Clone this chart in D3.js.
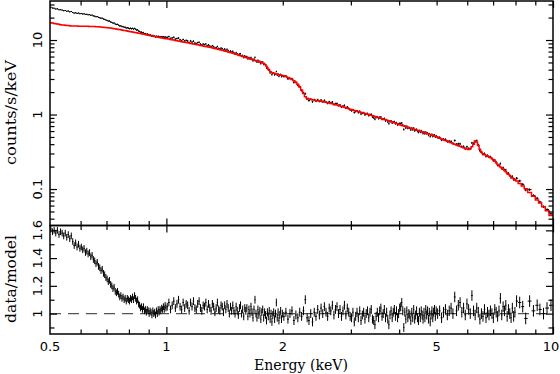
<!DOCTYPE html>
<html lang="en">
<head>
<meta charset="UTF-8">
<title>Spectrum with data/model ratio</title>
<script src="https://cdn.jsdelivr.net/npm/d3@7"></script>
<style>
  body { margin: 0; background: #fff; }
  svg { display: block; }
  .title { font-family: "DejaVu Serif", serif; font-size: 14px; fill: #000; }
  .num { font-family: "DejaVu Sans", sans-serif; font-size: 13px; fill: #000; }
</style>
</head>
<body>
<svg id="chart" width="560" height="374"></svg>
<script>
// bin centres in keV
const energy = [
  0.5025,0.5075,0.5125,0.5175,0.5225,0.5275,0.5325,0.5375,0.5425,0.5475,
  0.5525,0.5575,0.5625,0.5675,0.5725,0.5775,0.5825,0.5875,0.5925,0.5975,
  0.6025,0.6075,0.6125,0.6175,0.6225,0.6275,0.6325,0.6375,0.6425,0.6475,
  0.6525,0.6575,0.6625,0.6675,0.6725,0.6775,0.6825,0.6875,0.6925,0.6975,
  0.7025,0.7075,0.7125,0.7175,0.7225,0.7275,0.7325,0.7375,0.7425,0.7475,
  0.7525,0.7575,0.7625,0.7675,0.7725,0.7775,0.7825,0.7875,0.7925,0.7975,
  0.8025,0.8075,0.8125,0.8175,0.8225,0.8275,0.8325,0.8375,0.8425,0.8475,
  0.8525,0.8575,0.8625,0.8675,0.8725,0.8775,0.8825,0.8875,0.8925,0.8975,
  0.9025,0.9075,0.9125,0.9175,0.9225,0.9275,0.9325,0.9375,0.9425,0.9475,
  0.9525,0.9575,0.9625,0.9675,0.9725,0.9775,0.9825,0.9875,0.9925,0.9975,
  1.005,1.015,1.025,1.035,1.045,1.055,1.065,1.075,1.085,1.095,
  1.105,1.115,1.125,1.135,1.145,1.155,1.165,1.175,1.185,1.195,
  1.205,1.215,1.225,1.235,1.245,1.255,1.265,1.275,1.285,1.295,
  1.305,1.315,1.325,1.335,1.345,1.355,1.365,1.375,1.385,1.395,
  1.405,1.415,1.425,1.435,1.445,1.455,1.465,1.475,1.485,1.495,
  1.505,1.515,1.525,1.535,1.545,1.555,1.565,1.575,1.585,1.595,
  1.605,1.615,1.625,1.635,1.645,1.655,1.665,1.675,1.685,1.695,
  1.705,1.715,1.725,1.735,1.745,1.755,1.765,1.775,1.785,1.795,
  1.805,1.815,1.825,1.835,1.845,1.855,1.865,1.875,1.885,1.895,
  1.905,1.915,1.925,1.935,1.945,1.955,1.965,1.975,1.985,1.995,
  2.0125,2.0375,2.0625,2.0875,2.1125,2.1375,2.1625,2.1875,2.2125,2.2375,
  2.2625,2.2875,2.3125,2.3375,2.3625,2.3875,2.4125,2.4375,2.4625,2.4875,
  2.5125,2.5375,2.5625,2.5875,2.6125,2.6375,2.6625,2.6875,2.7125,2.7375,
  2.7625,2.7875,2.8125,2.8375,2.8625,2.8875,2.9125,2.9375,2.9625,2.9875,
  3.0125,3.0375,3.0625,3.0875,3.1125,3.1375,3.1625,3.1875,3.2125,3.2375,
  3.2625,3.2875,3.3125,3.3375,3.3625,3.3875,3.4125,3.4375,3.4625,3.4875,
  3.5125,3.5375,3.5625,3.5875,3.6125,3.6375,3.6625,3.6875,3.7125,3.7375,
  3.7625,3.7875,3.8125,3.8375,3.8625,3.8875,3.9125,3.9375,3.9625,3.9875,
  4.0125,4.0375,4.0625,4.0875,4.1125,4.1375,4.1625,4.1875,4.2125,4.2375,
  4.2625,4.2875,4.3125,4.3375,4.3625,4.3875,4.4125,4.4375,4.4625,4.4875,
  4.5125,4.5375,4.5625,4.5875,4.6125,4.6375,4.6625,4.6875,4.7125,4.7375,
  4.7625,4.7875,4.8125,4.8375,4.8625,4.8875,4.9125,4.9375,4.9625,4.9875,
  5.03,5.09,5.15,5.21,5.27,5.33,5.39,5.45,5.51,5.57,
  5.63,5.69,5.75,5.81,5.87,5.93,5.99,6.05,6.11,6.17,
  6.23,6.29,6.35,6.41,6.47,6.53,6.59,6.65,6.71,6.77,
  6.83,6.89,6.95,7.01,7.07,7.13,7.19,7.25,7.31,7.37,
  7.43,7.49,7.55,7.61,7.67,7.73,7.79,7.85,7.91,7.97,
  8.05,8.2,8.35,8.5,8.7,8.9,9.1,9.25,9.45,9.65,9.88
];

// data/model
const ratio = [
  1.61,1.59,1.60,1.58,1.60,1.57,1.59,1.58,1.56,1.58,
  1.55,1.57,1.54,1.56,1.52,1.49,1.51,1.48,1.50,1.47,
  1.48,1.46,1.47,1.44,1.45,1.43,1.44,1.41,1.42,1.39,
  1.38,1.36,1.37,1.34,1.33,1.31,1.32,1.29,1.28,1.26,
  1.25,1.23,1.24,1.21,1.20,1.18,1.19,1.16,1.15,1.16,
  1.14,1.12,1.13,1.11,1.12,1.10,1.11,1.09,1.11,1.10,
  1.09,1.11,1.10,1.12,1.10,1.13,1.11,1.09,1.10,1.07,
  1.06,1.04,1.05,1.03,1.05,1.02,1.03,1.01,1.03,1.02,
  1.00,1.02,1.01,0.99,1.02,1.00,1.01,0.99,1.02,1.00,
  1.03,1.01,1.03,1.02,1.04,1.03,1.05,1.03,1.06,1.04,
  1.05,1.08,1.03,1.06,1.09,1.04,1.07,1.10,1.05,1.03,
  1.08,1.04,1.07,1.06,1.02,1.08,1.05,1.09,1.04,1.03,
  1.07,1.09,1.04,1.02,1.06,1.05,1.08,1.03,1.07,1.04,
  1.02,1.07,1.05,1.01,1.04,1.08,1.03,1.02,1.06,1.05,
  1.01,1.06,1.03,1.07,1.04,1.00,1.05,1.02,1.06,1.02,
  1.00,1.05,1.02,0.99,1.04,1.06,1.00,1.03,0.98,1.04,
  1.02,1.04,0.98,1.03,1.00,1.05,1.01,0.97,1.03,1.10,
  1.00,0.97,1.03,0.99,1.02,0.96,1.01,1.03,0.97,1.01,
  0.99,0.95,1.01,0.98,1.02,0.96,1.00,0.94,0.99,1.01,
  0.96,1.00,1.08,0.97,1.01,0.95,0.99,1.02,0.96,1.00,
  0.98,1.01,0.96,1.00,1.02,0.95,0.99,0.97,1.01,0.98,
  1.02,1.10,0.97,0.95,1.00,0.94,1.01,0.98,1.03,0.99,
  1.04,1.00,1.05,1.01,0.98,1.04,1.02,1.06,0.99,1.03,
  1.05,1.00,1.03,0.98,1.02,1.06,0.99,1.04,1.01,0.98,
  0.97,1.01,0.94,0.98,1.01,0.97,1.02,0.95,0.99,1.01,
  0.96,1.00,1.02,0.97,1.01,1.03,0.96,0.95,0.92,0.98,
  1.01,0.97,1.02,1.04,0.98,1.00,1.03,0.97,1.01,0.96,
  0.92,0.99,1.02,0.97,1.01,1.03,0.98,1.02,0.97,1.00,
  1.04,1.05,1.08,1.02,0.90,1.01,0.96,1.02,0.97,1.00,
  0.99,0.95,1.01,0.97,1.03,0.96,0.99,1.02,0.97,0.95,
  1.01,0.97,1.02,0.99,0.96,1.01,0.97,1.03,0.99,1.02,
  0.96,1.01,0.94,0.99,1.02,0.97,1.01,1.03,0.98,1.02,
  1.00,1.02,0.97,1.01,1.03,0.99,1.02,1.04,1.00,1.12,
  1.02,1.06,1.08,1.01,1.04,0.99,1.07,1.03,1.00,1.13,
  1.02,0.99,1.04,1.01,0.96,1.00,0.98,1.03,0.97,1.01,
  0.99,1.02,1.00,0.97,1.03,1.01,0.98,1.02,1.11,0.99,
  1.05,1.02,1.06,0.98,1.03,1.00,0.97,1.04,0.98,1.01,
  1.09,1.08,1.05,0.965,1.09,1.02,1.06,1.03,1.00,1.04,1.06
];

// folded model, counts/s/keV
const model = [
  17.1,16.9,16.7,16.5,16.38,16.23,16.08,15.95,15.85,15.76,
  15.69,15.61,15.54,15.47,15.42,15.39,15.385,15.37,15.36,15.345,
  15.335,15.32,15.31,15.29,15.28,15.26,15.24,15.22,15.19,15.17,
  15.135,15.105,15.07,15.03,14.975,14.925,14.875,14.825,14.78,14.72,
  14.655,14.585,14.515,14.445,14.37,14.29,14.22,14.14,14.06,13.98,
  13.89,13.81,13.72,13.64,13.54,13.46,13.37,13.29,13.2,13.12,
  13.04,12.96,12.89,12.81,12.74,12.66,12.59,12.51,12.44,12.36,
  12.29,12.21,12.14,12.06,11.99,11.91,11.84,11.77,11.7,11.63,
  11.56,11.49,11.42,11.36,11.29,11.23,11.16,11.1,11.03,10.97,
  10.91,10.85,10.79,10.73,10.68,10.62,10.57,10.51,10.46,10.40,
  10.37,10.30,10.19,10.09,9.99,9.89,9.79,9.69,9.6,9.5,
  9.41,9.33,9.25,9.17,9.09,9.01,8.93,8.85,8.77,8.69,
  8.62,8.55,8.47,8.41,8.33,8.27,8.19,8.13,8.05,7.99,
  7.91,7.85,7.77,7.71,7.63,7.57,7.49,7.43,7.35,7.29,
  7.21,7.15,7.07,7.01,6.93,6.87,6.79,6.73,6.65,6.59,
  6.51,6.45,6.37,6.31,6.23,6.17,6.09,6.03,5.95,5.89,
  5.82,5.76,5.71,5.65,5.6,5.54,5.49,5.43,5.38,5.32,
  5.28,5.22,5.18,5.12,5.08,5.02,4.98,4.92,4.86,4.74,
  4.64,4.45,4.25,4.05,3.92,3.78,3.72,3.65,3.62,3.58,
  3.555,3.525,3.50,3.48,3.455,3.43,3.41,3.385,3.37,3.33,
  3.31,3.24,3.145,3.05,2.95,2.84,2.72,2.55,2.35,2.14,
  1.92,1.73,1.66,1.62,1.60,1.582,1.564,1.547,1.532,1.517,
  1.502,1.487,1.472,1.457,1.443,1.426,1.409,1.391,1.374,1.356,
  1.339,1.321,1.304,1.286,1.269,1.251,1.234,1.216,1.199,1.180,
  1.162,1.146,1.134,1.120,1.108,1.095,1.082,1.070,1.057,1.045,
  1.033,1.021,1.010,0.998,0.987,0.976,0.965,0.954,0.942,0.932,
  0.921,0.911,0.900,0.890,0.880,0.870,0.860,0.850,0.841,0.831,
  0.822,0.813,0.803,0.795,0.785,0.777,0.768,0.760,0.751,0.741,
  0.731,0.721,0.714,0.708,0.701,0.695,0.688,0.682,0.675,0.669,
  0.662,0.656,0.650,0.644,0.638,0.632,0.626,0.620,0.614,0.608,
  0.603,0.597,0.592,0.586,0.581,0.575,0.570,0.564,0.560,0.554,
  0.550,0.544,0.540,0.534,0.530,0.524,0.520,0.515,0.511,0.506,
  0.494,0.482,0.471,0.460,0.449,0.439,0.429,0.419,0.409,0.400,
  0.391,0.382,0.374,0.366,0.358,0.351,0.345,0.340,0.348,0.368,
  0.400,0.440,0.428,0.385,0.342,0.312,0.298,0.290,0.284,0.278,
  0.272,0.265,0.257,0.248,0.238,0.226,0.214,0.205,0.198,0.191,
  0.184,0.177,0.170,0.164,0.158,0.152,0.147,0.142,0.137,0.132,
  0.128,0.119,0.110,0.101,0.090,0.080,0.071,0.065,0.058,0.051,0.044
];

// typical 1-sigma error on data/model, by energy band (upper band edge in keV)
const errBandTop = [1, 2, 5, 8, 10];
const errBandValue = [0.024, 0.028, 0.032, 0.038, 0.042];

const xLabels = [0.5, 1, 2, 5, 10];
const xMajor = [1, 10];
const xMinor = [0.6, 0.7, 0.8, 0.9, 2, 3, 4, 5, 6, 7, 8, 9];
const countLabels = [0.1, 1, 10];
const countMinor = [0.04, 0.05, 0.06, 0.07, 0.08, 0.09, 0.2, 0.3, 0.4, 0.5, 0.6, 0.7, 0.8, 0.9,
                    2, 3, 4, 5, 6, 7, 8, 9, 20, 30];
const ratioLabels = [1, 1.2, 1.4, 1.6];
const ratioMinor = [0.9, 1.1, 1.3, 1.5];

const svg = d3.select("#chart");

const xL = 50, xR = 553, yT = 1, yM = 225.5, yB = 334;

const x = d3.scaleLog().domain([0.5, 10]).range([xL, xR]);
const yCounts = d3.scaleLog().domain([0.0324, 33.4]).range([yM, yT]);
const yRatio = d3.scaleLinear().domain([0.853, 1.635]).range([yB, yM]);

// bin edges halfway between neighbouring centres
const edges = [0.5];
for (let i = 1; i < energy.length; i++) edges.push((energy[i - 1] + energy[i]) / 2);
edges.push(10);

const ratioErr = energy.map(e => errBandValue[d3.bisectLeft(errBandTop, e)]);
const counts = ratio.map((r, i) => r * model[i]);
const countsErr = ratioErr.map((e, i) => e * model[i]);

function crosses(yScale, vals, errs) {
  const p = d3.path();
  energy.forEach((e, i) => {
    const yv = yScale(vals[i]);
    p.moveTo(x(edges[i]), yv);
    p.lineTo(x(edges[i + 1]), yv);
    p.moveTo(x(e), yScale(vals[i] - errs[i]));
    p.lineTo(x(e), yScale(vals[i] + errs[i]));
  });
  return p.toString();
}

// clip paths for the two panels
const defs = svg.append("defs");
defs.append("clipPath").attr("id", "clipTop")
  .append("rect").attr("x", xL).attr("y", yT).attr("width", xR - xL).attr("height", yM - yT);
defs.append("clipPath").attr("id", "clipBot")
  .append("rect").attr("x", xL).attr("y", yM).attr("width", xR - xL).attr("height", yB - yM);

// upper panel: data and model
const gTop = svg.append("g").attr("clip-path", "url(#clipTop)");
gTop.append("path")
  .attr("d", crosses(yCounts, counts, countsErr))
  .attr("fill", "none").attr("stroke", "#000").attr("stroke-width", 1);

const stepPts = [];
model.forEach((m, i) => { stepPts.push([edges[i], m], [edges[i + 1], m]); });
gTop.append("path")
  .datum(stepPts)
  .attr("d", d3.line().x(d => x(d[0])).y(d => yCounts(d[1])))
  .attr("fill", "none").attr("stroke", "#ff0000").attr("stroke-width", 1.5);

// lower panel: ratio
const gBot = svg.append("g").attr("clip-path", "url(#clipBot)");
gBot.append("line")
  .attr("x1", xL).attr("x2", xR)
  .attr("y1", yRatio(1)).attr("y2", yRatio(1))
  .attr("stroke", "#555").attr("stroke-width", 1.2).attr("stroke-dasharray", "11,7");
gBot.append("path")
  .attr("d", crosses(yRatio, ratio, ratioErr))
  .attr("fill", "none").attr("stroke", "#000").attr("stroke-width", 1);

// ticks, all pointing inwards
function tickSet(axisFn, scale, values, size, pos) {
  const g = svg.append("g")
    .attr("transform", pos)
    .call(axisFn(scale).tickValues(values).tickSize(size).tickFormat(""));
  g.select(".domain").remove();
  g.selectAll(".tick line").attr("stroke", "#000").attr("stroke-width", 1.2);
}
// top panel
tickSet(d3.axisTop, x, xMajor, -7, `translate(0,${yT})`);
tickSet(d3.axisTop, x, xMinor, -4.5, `translate(0,${yT})`);
tickSet(d3.axisBottom, x, xMajor, -7, `translate(0,${yM})`);
tickSet(d3.axisBottom, x, xMinor, -4.5, `translate(0,${yM})`);
tickSet(d3.axisLeft, yCounts, countLabels, -7, `translate(${xL},0)`);
tickSet(d3.axisLeft, yCounts, countMinor, -4.5, `translate(${xL},0)`);
tickSet(d3.axisRight, yCounts, countLabels, -7, `translate(${xR},0)`);
tickSet(d3.axisRight, yCounts, countMinor, -4.5, `translate(${xR},0)`);
// lower panel
tickSet(d3.axisTop, x, xMajor, -7, `translate(0,${yM})`);
tickSet(d3.axisTop, x, xMinor, -4.5, `translate(0,${yM})`);
tickSet(d3.axisBottom, x, xMajor, -7, `translate(0,${yB})`);
tickSet(d3.axisBottom, x, xMinor, -4.5, `translate(0,${yB})`);
tickSet(d3.axisLeft, yRatio, ratioLabels, -7, `translate(${xL},0)`);
tickSet(d3.axisLeft, yRatio, ratioMinor, -4.5, `translate(${xL},0)`);
tickSet(d3.axisRight, yRatio, ratioLabels, -7, `translate(${xR},0)`);
tickSet(d3.axisRight, yRatio, ratioMinor, -4.5, `translate(${xR},0)`);

// frames
[[yT, yM], [yM, yB]].forEach(([a, b]) => {
  svg.append("rect")
    .attr("x", xL).attr("y", a).attr("width", xR - xL).attr("height", b - a)
    .attr("fill", "none").attr("stroke", "#000").attr("stroke-width", 1.5);
});

// tick labels
svg.append("g").selectAll("text")
  .data(xLabels).join("text")
  .attr("class", "num")
  .attr("x", d => d === 10 ? x(d) - 2 : x(d))
  .attr("y", 351)
  .attr("text-anchor", "middle")
  .text(d => d);

function yLabels(scale, values) {
  svg.append("g").selectAll("text")
    .data(values).join("text")
    .attr("class", "num")
    .attr("transform", d => `translate(41.5,${scale(d)}) rotate(-90)`)
    .attr("text-anchor", "middle")
    .text(d => d);
}
yLabels(yCounts, countLabels);
yLabels(yRatio, ratioLabels);

// axis titles
svg.append("text").attr("class", "title")
  .attr("x", 301).attr("y", 369.5)
  .attr("text-anchor", "middle")
  .attr("textLength", 94).attr("lengthAdjust", "spacingAndGlyphs")
  .text("Energy (keV)");
svg.append("text").attr("class", "title")
  .attr("transform", "translate(16,112.5) rotate(-90)")
  .attr("text-anchor", "middle")
  .attr("textLength", 105).attr("lengthAdjust", "spacingAndGlyphs")
  .text("counts/s/keV");
svg.append("text").attr("class", "title")
  .attr("transform", "translate(16,279) rotate(-90)")
  .attr("text-anchor", "middle")
  .attr("textLength", 88).attr("lengthAdjust", "spacingAndGlyphs")
  .text("data/model");
</script>
</body>
</html>
